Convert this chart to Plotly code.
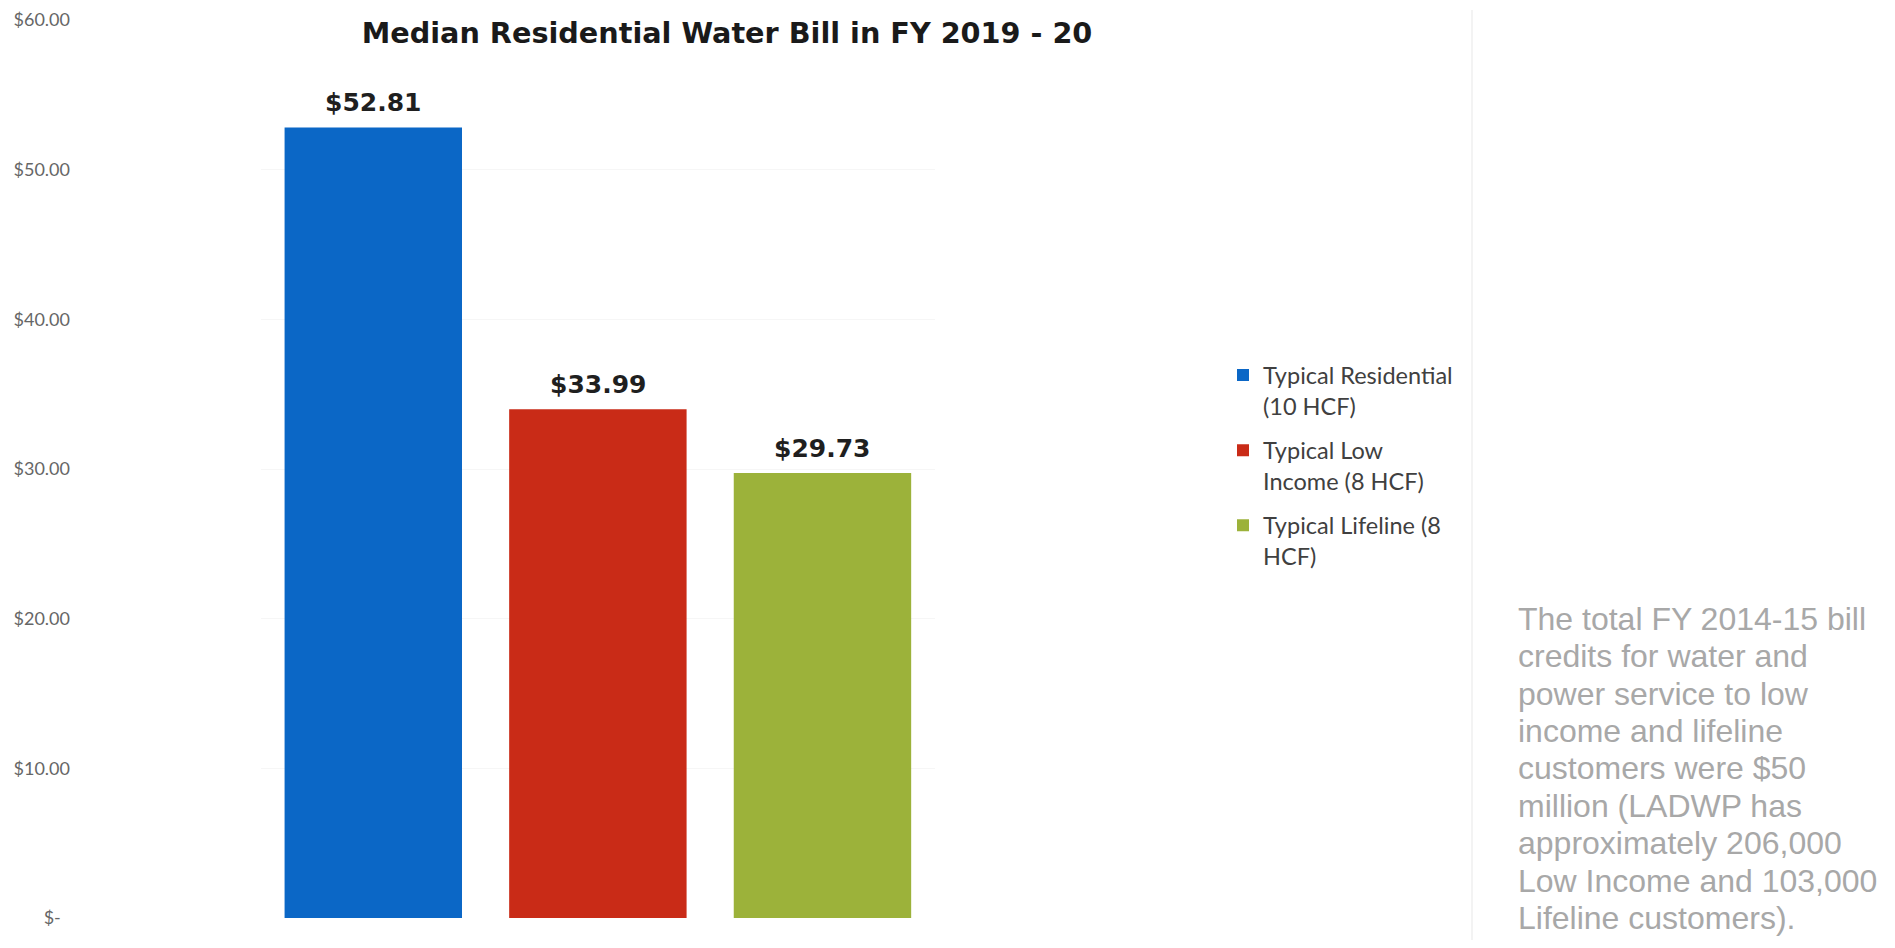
import plotly.graph_objects as go

# ---- data ----
categories = ["Typical Residential (10 HCF)", "Typical Low Income (8 HCF)", "Typical Lifeline (8 HCF)"]
legend_names = ["Typical Residential<br>(10 HCF)", "Typical Low<br>Income (8 HCF)", "Typical Lifeline (8<br>HCF)"]
bill_values = [52.81, 33.99, 29.73]
bar_colors = ["#0b67c6", "#c92b17", "#9cb23a"]
y_tick_values = [0, 10, 20, 30, 40, 50, 60]
y_tick_labels = ["$-\u00a0\u00a0", "$10.00", "$20.00", "$30.00", "$40.00", "$50.00", "$60.00"]
title_text = "Median Residential Water Bill in FY 2019 - 20"
note_lines = [
    "The total FY 2014-15 bill",
    "credits for water and",
    "power service to low",
    "income and lifeline",
    "customers were $50",
    "million (LADWP has",
    "approximately 206,000",
    "Low Income and 103,000",
    "Lifeline customers).",
]

# ---- layout geometry (pixels, figure coordinates; page body adds an 8px margin) ----
W, H = 1895 - 16, 948 - 16
ML, MR, MT = 62, 0, 10
PLOT_BOTTOM = 910
MB = H - PLOT_BOTTOM
PW = W - ML - MR
PH = H - MT - MB


def px_x(p):
    return (p - ML) / PW


def px_y(p):
    return 1 - (p - MT) / PH


fig = go.Figure()
for i, cat in enumerate(categories):
    fig.add_trace(go.Bar(
        x=[cat], y=[bill_values[i]], name=legend_names[i],
        marker=dict(color=bar_colors[i], line=dict(width=0)),
        legendgroup=str(i), hoverinfo="skip",
    ))
    fig.add_annotation(
        x=cat, y=bill_values[i], xref="x", yref="y",
        text="$" + f"{bill_values[i]:.2f}", showarrow=False,
        yanchor="middle", yshift=25,
        font=dict(family="DejaVu Sans", size=25, color="#1f1f1f", weight="bold"),
    )

for i, line in enumerate(note_lines):
    fig.add_annotation(
        x=px_x(1508), y=px_y(610 + i * 37.5), xref="paper", yref="paper",
        text=line, showarrow=False, xanchor="left", yanchor="middle",
        font=dict(family="Liberation Sans, Arial", size=32, color="#a8a8a8"),
    )

fig.add_shape(type="line", xref="paper", yref="paper",
              x0=px_x(1464), x1=px_x(1464), y0=px_y(H), y1=px_y(0),
              line=dict(color="#f3f3f3", width=2))

fig.update_layout(
    width=W, height=H,
    margin=dict(l=ML, r=MR, t=MT, b=MB),
    paper_bgcolor="white", plot_bgcolor="white",
    barmode="overlay", bargap=0.21,
    title=dict(text=title_text, x=719 / W, xref="container", xanchor="center",
               y=1 - 25 / H, yref="container", yanchor="middle",
               font=dict(family="DejaVu Sans", size=28.7, color="#1a1a1a", weight="bold")),
    xaxis=dict(type="category", categoryorder="array", categoryarray=categories,
               range=[-0.5, 2.5], domain=[px_x(253), px_x(926.75)],
               showticklabels=False, showgrid=False, zeroline=False, showline=False, ticks=""),
    yaxis=dict(anchor="free", position=0, range=[0, 60],
               tickvals=y_tick_values, ticktext=y_tick_labels,
               ticklabeloverflow="allow",
               showgrid=True, gridcolor="#f6f6f6", gridwidth=1,
               zeroline=False, showline=False, ticks="",
               tickfont=dict(family="Lato", size=18, color="#666666")),
    legend=dict(x=px_x(1215), y=px_y(344), xanchor="left", yanchor="top",
                valign="top", traceorder="grouped", tracegroupgap=11,
                bgcolor="rgba(0,0,0,0)", borderwidth=0,
                font=dict(family="Lato", size=23.5, color="#404040")),
    showlegend=True,
)

fig.write_html("out.html")
